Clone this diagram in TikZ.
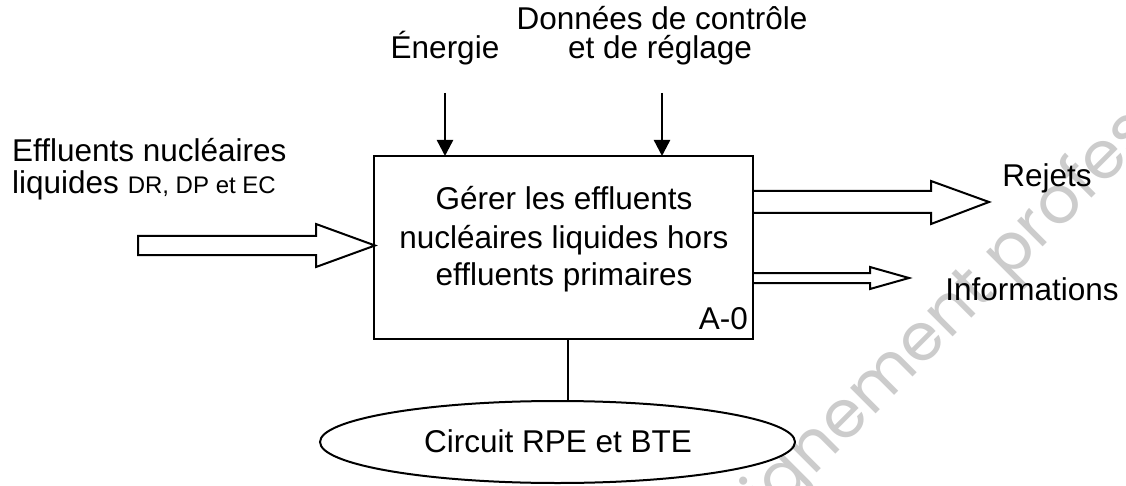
\documentclass[tikz,border=0pt]{standalone}
\usepackage{fontspec}
\setmainfont{Liberation Sans}
\newfontfamily\wmfont{Poppins}
\usetikzlibrary{arrows.meta,shapes.geometric}
\begin{document}
\begin{tikzpicture}[x=1pt,y=-1pt,
  txt/.style={font=\fontsize{31.5}{37.5}\selectfont, inner sep=0pt, align=center},
  ln/.style={line width=2pt, line join=miter},
  ctrl/.style={line width=2.4pt, -{Triangle[length=16pt,width=16pt]}},
  hollow/.style={line width=2pt, fill=white, line join=miter}]
\useasboundingbox (0,0) rectangle (1126,486);
\begin{scope}
\clip (0,0) rectangle (1126,486);
\node[rotate=45, text=black!20, font=\wmfont\fontsize{66}{74}\selectfont, anchor=base, inner sep=0pt] (wm) at (996,294) {\llap{enseignement}\rlap{ professionnel}};
\end{scope}
% main box
\draw[ln] (374,156) rectangle (753,339);
\node[txt, anchor=base] (func1) at (564,210) {Gérer les effluents};
\node[txt, anchor=base] (func2) at (564,248) {nucléaires liquides hors};
\node[txt, anchor=base] (func3) at (564,285) {effluents primaires};
\node[txt, anchor=base east] (code) at (748,329) {A-0};
% controls
\node[txt, anchor=base] (energie) at (445,59) {Énergie};
\node[txt, anchor=base] (donnees1) at (662,30) {Données de contrôle};
\node[txt, anchor=base] (donnees2) at (660,59) {et de réglage};
\coordinate (c1s) at (445,93);
\coordinate (c1e) at (445,156);
\coordinate (c2s) at (662,93);
\coordinate (c2e) at (662,156);
\draw[ctrl] (c1s) -- (c1e);
\draw[ctrl] (c2s) -- (c2e);
% input
\node[txt, anchor=base west] (in1) at (12,162) {Effluents nucléaires};
\node[txt, anchor=base west] (in2) at (12,194) {liquides {\fontsize{24}{28}\selectfont DR, DP et EC}};
\draw[hollow] (138,236) -- (316,236) -- (316,224) -- (375,245.5) -- (316,267) -- (316,255) -- (138,255) -- cycle;
% outputs
\draw[hollow] (754,191) -- (931,191) -- (931,181) -- (989,202) -- (931,224) -- (931,213) -- (754,213);
\draw[hollow] (754,273) -- (870,273) -- (870,267) -- (909,278) -- (870,289) -- (870,283) -- (754,283);
\node[txt, anchor=base] (rejets) at (1047,187) {Rejets};
\node[txt, anchor=base] (infos) at (1032,300) {Informations};
% mechanism
\node[draw, ellipse, line width=2pt, minimum width=475pt, minimum height=82pt, inner sep=0pt] (meca) at (557.5,442) {};
\node[txt, anchor=base] (mtxt) at (558,452) {Circuit RPE et BTE};
\coordinate (mtop) at (568,339);
\draw[ln] (mtop) -- (mtop |- meca.north);
\end{tikzpicture}
\end{document}
